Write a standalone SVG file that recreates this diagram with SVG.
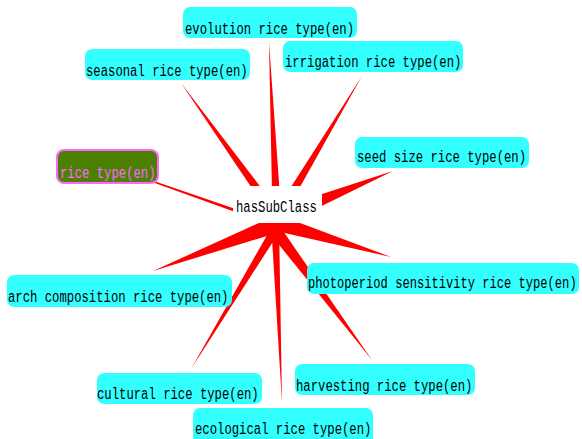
<svg xmlns="http://www.w3.org/2000/svg" width="582" height="439" viewBox="0 0 582 439">
  <style>
    .spoke { fill: #ff0000; }
    .box { fill: #33ffff; }
    .root { fill: #4b8000; stroke: #ff66ff; stroke-width: 2; }
    text { font-family: "Liberation Mono", "DejaVu Sans Mono", monospace; font-size: 12.25px; fill: #000000; }
    .root-label { fill: #ff66ff; }
    .tight { font-size: 12.1px; }
  </style>
  <rect x="0" y="0" width="582" height="439" fill="#ffffff"/>

  <!-- tapered connectors from the hasSubClass hub to each class -->
  <g id="connectors">
    <polygon class="spoke" points="155.3,181.5 277.6,223.3 276.4,226.7 154.7,183.1"/>
    <polygon class="spoke" points="181,83 282.1,215.1 273.9,220.9"/>
    <polygon class="spoke" points="269,42 281.5,218 272.5,218"/>
    <polygon class="spoke" points="362,76 281.3,220.6 272.7,215.4"/>
    <polygon class="spoke" points="393,171 280.4,226.3 273.6,209.7"/>
    <polygon class="spoke" points="153,271 280,231.9 274,216.1"/>
    <polygon class="spoke" points="191,369 284.1,224.5 275.9,219.5"/>
    <polygon class="spoke" points="282,403 279,222.2 271,221.8"/>
    <polygon class="spoke" points="372,360 274.2,218.1 263.8,225.9"/>
    <polygon class="spoke" points="391,257 274.7,230.7 279.3,215.3"/>
  </g>

  <!-- relation label; glyphs are stretched vertically to a tall, narrow mono face -->
  <g id="hasSubClass">
    <rect x="233" y="186" width="89" height="37" fill="#ffffff"/>
    <text transform="translate(236,212) scale(1,1.39)">hasSubClass</text>
  </g>

  <g id="rice-type">
    <rect class="root" x="57" y="150" width="101" height="33" rx="7"/>
    <text class="root-label" transform="translate(60,178) scale(1,1.39)">rice type(en)</text>
  </g>

  <g id="evolution">
    <rect class="box" x="183" y="7" width="174" height="31" rx="7"/>
    <text transform="translate(185,34) scale(1,1.39)">evolution rice type(en)</text>
  </g>

  <g id="irrigation">
    <rect class="box" x="283" y="41" width="180" height="31" rx="7"/>
    <text transform="translate(285,66.5) scale(1,1.39)">irrigation rice type(en)</text>
  </g>

  <g id="seasonal">
    <rect class="box" x="85" y="49" width="165" height="31" rx="7"/>
    <text transform="translate(86,75.5) scale(1,1.39)">seasonal rice type(en)</text>
  </g>

  <g id="seed-size">
    <rect class="box" x="355" y="137" width="174" height="31" rx="7"/>
    <text transform="translate(357,162) scale(1,1.39)">seed size rice type(en)</text>
  </g>

  <g id="arch-composition">
    <rect class="box" x="7" y="275" width="225" height="32" rx="7"/>
    <text transform="translate(8,301.5) scale(1,1.39)">arch composition rice type(en)</text>
  </g>

  <g id="photoperiod-sensitivity">
    <rect class="box" x="307" y="263" width="272" height="31" rx="7"/>
    <text class="tight" transform="translate(308,288) scale(1,1.4)">photoperiod sensitivity rice type(en)</text>
  </g>

  <g id="cultural">
    <rect class="box" x="97" y="373" width="165" height="31" rx="7"/>
    <text transform="translate(97,398.5) scale(1,1.39)">cultural rice type(en)</text>
  </g>

  <g id="harvesting">
    <rect class="box" x="295" y="364" width="180" height="31" rx="7"/>
    <text transform="translate(296,390.5) scale(1,1.39)">harvesting rice type(en)</text>
  </g>

  <g id="ecological">
    <rect class="box" x="193" y="408" width="180" height="36" rx="7"/>
    <text transform="translate(195,433.5) scale(1,1.39)">ecological rice type(en)</text>
  </g>
</svg>
